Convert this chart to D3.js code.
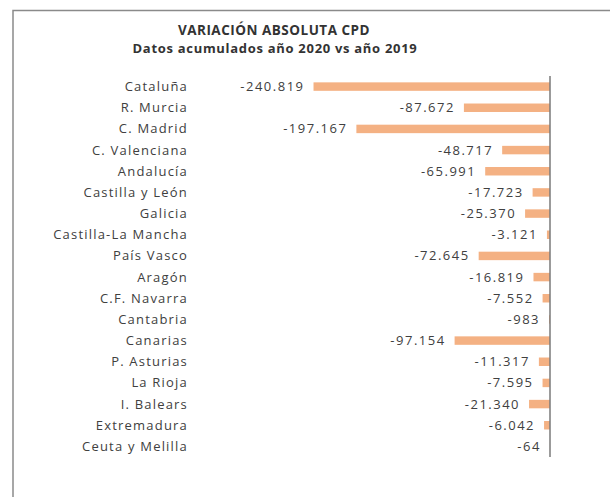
<!DOCTYPE html>
<html><head><meta charset="utf-8">
<script src="https://cdn.jsdelivr.net/npm/d3@7"></script>
<style>
html,body{margin:0;padding:0;background:#fff;}
svg{display:block;}
text{font-family:"Open Sans",sans-serif;fill:#404040;}
</style></head>
<body><svg id="c" width="610" height="497"></svg>
<script>
const categories = ["Cataluña","R. Murcia","C. Madrid","C. Valenciana","Andalucía","Castilla y León","Galicia","Castilla-La Mancha","País Vasco","Aragón","C.F. Navarra","Cantabria","Canarias","P. Asturias","La Rioja","I. Balears","Extremadura","Ceuta y Melilla"];
const values = [-240819,-87672,-197167,-48717,-65991,-17723,-25370,-3121,-72645,-16819,-7552,-983,-97154,-11317,-7595,-21340,-6042,-64];
const title = "VARIACIÓN ABSOLUTA CPD";
const subtitle = "Datos acumulados año 2020 vs año 2019";

const svg = d3.select("#c");
const data = categories.map((c,i)=>({c, v: values[i]}));
const loc = d3.formatLocale({decimal:",", thousands:".", grouping:[3], currency:["","€"], minus:"-"});
const fmt = loc.format(",d");

const x = d3.scaleLinear().domain([-250000, 0]).range([304.5, 550]);
const y = d3.scaleBand().domain(categories).range([76, 457]).paddingInner(0.6).paddingOuter(0.3);

// frame
svg.append("path").attr("d","M13,497 L13,10.5 L610,10.5").attr("fill","none").attr("stroke","#8a8a8a").attr("stroke-width",1.5);

svg.append("text").attr("x",274).attr("y",35).attr("text-anchor","middle")
  .attr("font-size","13.5px").attr("font-weight","bold").style("letter-spacing","0.5px").style("fill","#333").text(title);
svg.append("text").attr("x",275).attr("y",53).attr("text-anchor","middle")
  .attr("font-size","13px").attr("font-weight","bold").style("letter-spacing","0.7px").style("fill","#333").text(subtitle);

svg.selectAll("rect.bar").data(data).join("rect").attr("class","bar")
  .attr("x", d=>x(d.v)).attr("width", d=>x(0)-x(d.v))
  .attr("y", d=>y(d.c)).attr("height", y.bandwidth())
  .attr("fill","#F4B183");

svg.selectAll("text.val").data(data).join("text").attr("class","val")
  .attr("x", d=>x(d.v)-9).attr("y", d=>y(d.c)+y.bandwidth()/2)
  .attr("dy","0.35em").attr("text-anchor","end").attr("font-size","13px")
  .style("letter-spacing","1.5px")
  .text(d=>fmt(d.v));

svg.selectAll("text.cat").data(data).join("text").attr("class","cat")
  .attr("x", 188).attr("y", d=>y(d.c)+y.bandwidth()/2)
  .attr("dy","0.35em").attr("text-anchor","end").attr("font-size","13px")
  .style("letter-spacing","1.2px")
  .text(d=>d.c);

svg.append("line").attr("x1",x(0)).attr("x2",x(0)).attr("y1",76).attr("y2",457)
  .attr("stroke","#7a7a7a").attr("stroke-width",1.5);
</script></body></html>
